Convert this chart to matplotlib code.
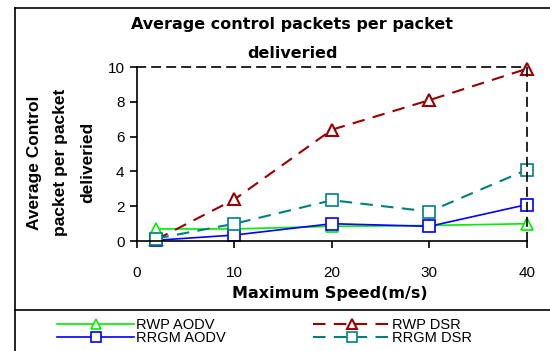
import matplotlib.pyplot as plt
from matplotlib.lines import Line2D

plt.rcParams['font.family'] = ['Liberation Sans', 'DejaVu Sans']

speed = [2, 10, 20, 30, 40]
rwp_aodv = [0.7, 0.7, 0.85, 0.9, 1.0]
rrgm_aodv = [0.05, 0.35, 1.0, 0.85, 2.1]
rwp_dsr = [0.1, 2.4, 6.4, 8.1, 9.9]
rrgm_dsr = [0.15, 1.0, 2.35, 1.7, 4.1]

fig = plt.figure(figsize=(5.5, 3.51), dpi=100)
ax = fig.add_axes([0.249, 0.313, 0.709, 0.496])

l1, = ax.plot(speed, rwp_aodv, color='#00ee00', lw=1.2, marker='^', ms=8,
              mfc='white', mec='#00ee00', mew=1.2, label='RWP AODV')
l2, = ax.plot(speed, rrgm_aodv, color='#0000ff', lw=1.2, marker='s', ms=8,
              mfc='white', mec='#0000ff', mew=1.2, label='RRGM AODV')
l3, = ax.plot(speed, rwp_dsr, color='#990000', lw=1.5, ls=(0, (6, 4)), marker='^', ms=8,
              mfc='white', mec='#990000', mew=1.5, label='RWP DSR')
l4, = ax.plot(speed, rrgm_dsr, color='#008080', lw=1.5, ls=(0, (6, 4)), marker='s', ms=8,
              mfc='white', mec='#008080', mew=1.2, label='RRGM DSR')

ax.set_xlim(0, 40)
ax.set_ylim(0, 10)
ax.set_xticks([0, 10, 20, 30, 40])
ax.set_yticks([0, 2, 4, 6, 8, 10])
ax.tick_params(direction='out', length=5, width=1.2, labelsize=11)
ax.tick_params(axis='x', pad=13)
ax.tick_params(axis='y', pad=4)
for s in ['top', 'right']:
    ax.spines[s].set_linestyle((0, (5, 4)))
    ax.spines[s].set_linewidth(1.2)
for s in ['left', 'bottom']:
    ax.spines[s].set_linewidth(1.2)
for ln in [l1, l2, l3, l4]:
    ln.set_clip_on(False)

ax.set_xlabel('Maximum Speed(m/s)', fontsize=11.5, fontweight='bold',
              family=['DejaVu Sans'])
ax.xaxis.set_label_coords(0.495, -0.255)
ax.set_ylabel('Average Control\npacket per packet\ndeliveried', fontsize=12.5,
              fontweight='bold', linespacing=1.95)
ax.yaxis.set_label_coords(-0.108, 0.45)
fig.text(0.531, 0.889, 'Average control packets per packet\ndeliveried', ha='center',
         va='center', fontsize=11.5, fontweight='bold', linespacing=2.1,
         family=['DejaVu Sans'])

# outer frame and legend separator
fig.add_artist(Line2D([0.028, 0.028], [0, 0.977], color='black', lw=1.2))
fig.add_artist(Line2D([0.028, 1.0], [0.977, 0.977], color='black', lw=1.2))
fig.add_artist(Line2D([0.028, 1.0], [0.117, 0.117], color='black', lw=1.2))

fig.legend(handles=[l1, l2, l3, l4], loc='upper left', bbox_to_anchor=(0.085, 0.122),
           ncol=2, frameon=False, fontsize=10.5, handlelength=5.3, handletextpad=0.1,
           columnspacing=6.0, labelspacing=-0.1, borderpad=0.2, markerscale=0.85)

fig.savefig('out.png', dpi=100)
